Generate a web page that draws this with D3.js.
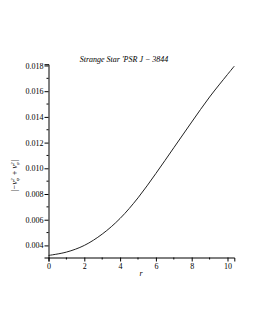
<!DOCTYPE html>
<html><head><meta charset="utf-8">
<script src="https://cdn.jsdelivr.net/npm/d3@7"></script>
<style>body{margin:0;background:#fff}svg{display:block}text{font-family:"Liberation Serif","DejaVu Serif",serif}</style>
</head><body><svg id="c" width="255" height="330"></svg>
<script>
const rValues = [0, 1, 2, 3, 4, 5, 6, 7, 8, 9, 10, 10.38];
const yValues = [0.00322, 0.00348, 0.0040, 0.00488, 0.0061, 0.0077, 0.0096, 0.0116, 0.0136, 0.01555, 0.0173, 0.01795];
const xTicks = [0, 2, 4, 6, 8, 10];
const xMinor = [1, 3, 5, 7, 9];
const yTicks = [0.004, 0.006, 0.008, 0.010, 0.012, 0.014, 0.016, 0.018];
const yMinor = [0.005, 0.007, 0.009, 0.011, 0.013, 0.015, 0.017];
const title = "Strange Star 'PSR J \u2212 3844";

const svg = d3.select("#c");
const x = d3.scaleLinear().domain([0, 10.38]).range([48.5, 234.3]);
const y = d3.scaleLinear().domain([0.00306, 0.0181]).range([257.5, 64.2]);

// x axis
const xa = svg.append("g").attr("transform", `translate(0,${y.range()[0]})`)
  .call(d3.axisBottom(x).tickValues(xTicks).tickFormat(d3.format("d")).tickSize(4).tickPadding(2));
xa.append("g").selectAll("line").data(xMinor).join("line")
  .attr("x1", d => x(d)).attr("x2", d => x(d)).attr("y1", 0).attr("y2", 2).attr("stroke", "#000");
// y axis
const ya = svg.append("g").attr("transform", `translate(${x.range()[0]},0)`)
  .call(d3.axisLeft(y).tickValues(yTicks).tickFormat(d3.format(".3f")).tickSize(4).tickPadding(1));
ya.append("g").selectAll("line").data(yMinor).join("line")
  .attr("y1", d => y(d)).attr("y2", d => y(d)).attr("x1", 0).attr("x2", -2).attr("stroke", "#000");
[xa, ya].forEach(a => {
  a.select(".domain").attr("stroke", "#000");
  a.selectAll("text").attr("font-size", 8).attr("fill", "#000").style("font-family", '"Liberation Serif",serif');
});

// curve
svg.append("path").datum(rValues.map((r, i) => [r, yValues[i]]))
  .attr("fill", "none").attr("stroke", "#222").attr("stroke-width", 1)
  .attr("d", d3.line().x(d => x(d[0])).y(d => y(d[1])).curve(d3.curveCatmullRom));

// title
svg.append("text").attr("x", 124).attr("y", 62).attr("text-anchor", "middle")
  .attr("font-size", 8).attr("font-style", "italic").text(title);
// x label
svg.append("text").attr("x", 141).attr("y", 276).attr("text-anchor", "middle")
  .attr("font-size", 8).attr("font-style", "italic").text("r");
// y label
const yl = svg.append("text").attr("transform", "translate(17,176) rotate(-90)")
  .attr("text-anchor", "middle").attr("font-size", 8).attr("font-style", "italic");
yl.append("tspan").text("|\u2212v");
yl.append("tspan").attr("font-size", 5).attr("dy", -3).text("2");
yl.append("tspan").attr("font-size", 5).attr("dx", -2.5).attr("dy", 5).text("\u03c8");
yl.append("tspan").attr("dy", -2).text(" + v");
yl.append("tspan").attr("font-size", 5).attr("dy", -3).text("2");
yl.append("tspan").attr("font-size", 5).attr("dx", -2.5).attr("dy", 5).text("\u03c6");
yl.append("tspan").attr("dy", -2).text("|");
</script></body></html>
